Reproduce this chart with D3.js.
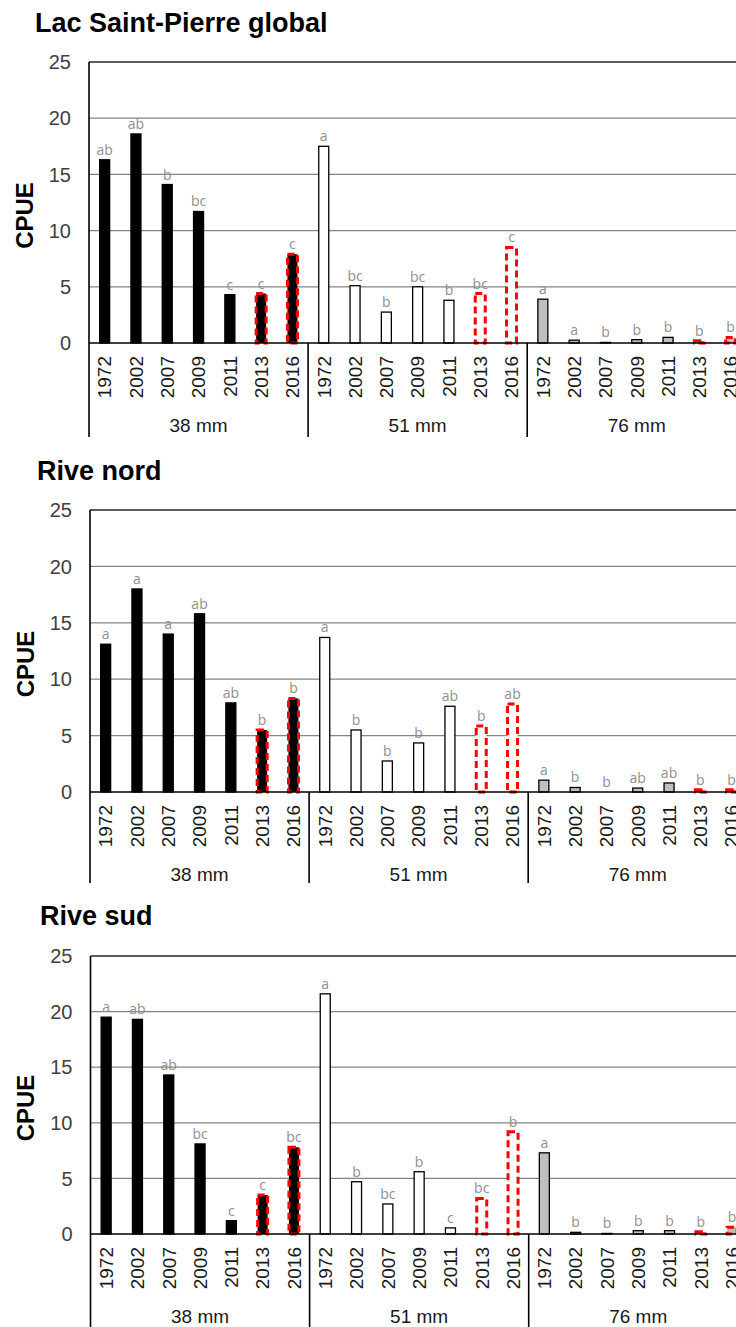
<!DOCTYPE html>
<html>
<head>
<meta charset="utf-8">
<script src="https://cdn.jsdelivr.net/npm/d3@7"></script>
<style>
  body { margin: 0; background: #fff; }
  svg { display: block; }
</style>
</head>
<body>
<div id="chart"></div>
<script>
// categories
const years = ["1972", "2002", "2007", "2009", "2011", "2013", "2016"];
const meshes = ["38 mm", "51 mm", "76 mm"];
const yTicks = [0, 5, 10, 15, 20, 25];
const dashedYears = ["2013", "2016"];
const titles = ["Lac Saint-Pierre global", "Rive nord", "Rive sud"];

// CPUE values, 38 mm then 51 mm then 76 mm
const globalValues = [16.3, 18.6, 14.1, 11.7, 4.3, 4.4, 7.9,
                      17.5, 5.1, 2.75, 5.0, 3.8, 4.4, 8.5,
                      3.9, 0.25, 0.05, 0.3, 0.5, 0.2, 0.5];
const globalLetters = ["ab", "ab", "b", "bc", "c", "c", "c",
                       "a", "bc", "b", "bc", "b", "bc", "c",
                       "a", "a", "b", "b", "b", "b", "b"];

const northValues = [13.1, 18.0, 14.0, 15.8, 7.9, 5.5, 8.3,
                     13.7, 5.5, 2.75, 4.35, 7.6, 5.85, 7.8,
                     1.05, 0.4, 0, 0.35, 0.8, 0.2, 0.2];
const northLetters = ["a", "a", "a", "ab", "ab", "b", "b",
                      "a", "b", "b", "b", "ab", "b", "ab",
                      "a", "b", "b", "ab", "ab", "b", "b"];

const southValues = [19.5, 19.3, 14.3, 8.1, 1.2, 3.5, 7.8,
                     21.6, 4.7, 2.7, 5.6, 0.55, 3.2, 9.2,
                     7.3, 0.15, 0.05, 0.3, 0.3, 0.2, 0.6];
const southLetters = ["a", "ab", "ab", "bc", "c", "c", "bc",
                      "a", "b", "bc", "b", "c", "bc", "b",
                      "a", "b", "b", "b", "b", "b", "b"];

const allValues = [globalValues, northValues, southValues];
const allLetters = [globalLetters, northLetters, southLetters];

// layout of each panel
let panels = [
  {titleX: 35, titleY: 32, top: 62, zero: 343, left: 89, bottom: 437},
  {titleX: 37, titleY: 480, top: 510, zero: 792, left: 90, bottom: 883},
  {titleX: 40, titleY: 925, top: 956, zero: 1234, left: 90.5, bottom: 1327}
];

let w = 736;
let h = 1327;
let band = 31.3;
let barW = 10;
let fills = {"38 mm": "#000000", "51 mm": "#ffffff", "76 mm": "#bfbfbf"};

let svg = d3.select("#chart")
  .append("svg")
  .attr("width", w)
  .attr("height", h)
  .style("font-family", "Arial, 'Liberation Sans', sans-serif");

panels.forEach((p, pi) => {
  let g = svg.append("g");

  let rows = [];
  meshes.forEach((m, mi) => {
    years.forEach((yr, yi) => {
      let k = mi * years.length + yi;
      rows.push({mesh: m, year: yr, value: allValues[pi][k], letter: allLetters[pi][k]});
    });
  });

  let x0 = d3.scaleBand().domain(meshes)
    .range([p.left, p.left + band * years.length * meshes.length]);
  let x1 = d3.scaleBand().domain(years).range([0, x0.bandwidth()]);
  let y = d3.scaleLinear().domain([0, 25]).range([p.zero, p.top]);
  let cx = (d) => x0(d.mesh) + x1(d.year) + x1.bandwidth() / 2;

  // title
  g.append("text")
    .attr("x", p.titleX)
    .attr("y", p.titleY)
    .style("font-size", "27px")
    .style("font-weight", "bold")
    .text(titles[pi]);

  // gridlines
  g.selectAll(".grid")
    .data(yTicks.filter(t => t > 0))
    .join("line")
    .attr("x1", p.left)
    .attr("x2", w)
    .attr("y1", d => y(d))
    .attr("y2", d => y(d))
    .attr("stroke", d => d == 25 ? "#262626" : "#858585")
    .attr("stroke-width", 1.3);

  // y tick labels
  g.selectAll(".ytick")
    .data(yTicks)
    .join("text")
    .attr("x", p.left - 18)
    .attr("y", d => y(d))
    .attr("dy", "0.36em")
    .attr("text-anchor", "end")
    .style("font-size", "20px")
    .style("fill", "#404040")
    .text(d => d);

  // y title
  g.append("text")
    .attr("transform", "translate(" + (p.left - 65) + "," + ((p.top + p.zero) / 2 + 13) + ") rotate(-90)")
    .attr("text-anchor", "middle")
    .attr("dy", "0.36em")
    .style("font-size", "24px")
    .style("font-weight", "bold")
    .text("CPUE");

  // bars
  g.selectAll(".bar")
    .data(rows)
    .join("rect")
    .attr("x", d => cx(d) - barW / 2)
    .attr("y", d => y(d.value))
    .attr("width", barW)
    .attr("height", d => y(0) - y(d.value))
    .attr("fill", d => fills[d.mesh])
    .attr("stroke", d => dashedYears.includes(d.year) ? "#ff0000" : "#000")
    .attr("stroke-width", d => dashedYears.includes(d.year) ? 3 : 1.3)
    .attr("stroke-dasharray", d => dashedYears.includes(d.year) ? "7,4" : null);

  // letters
  g.selectAll(".letter")
    .data(rows)
    .join("text")
    .attr("x", d => cx(d))
    .attr("y", d => y(d.value) - 5)
    .attr("text-anchor", "middle")
    .style("font-family", "'Open Sans', sans-serif")
    .style("font-size", "14px")
    .style("fill", "#8f8f8f")
    .text(d => d.letter);

  // axis lines
  g.append("line")
    .attr("x1", p.left).attr("x2", w)
    .attr("y1", p.zero).attr("y2", p.zero)
    .attr("stroke", "#000").attr("stroke-width", 1.6);
  g.append("line")
    .attr("x1", p.left).attr("x2", p.left)
    .attr("y1", p.top).attr("y2", p.bottom)
    .attr("stroke", "#000").attr("stroke-width", 1.6);
  g.selectAll(".sep")
    .data(meshes)
    .join("line")
    .attr("x1", d => x0(d) + x0.bandwidth())
    .attr("x2", d => x0(d) + x0.bandwidth())
    .attr("y1", p.zero)
    .attr("y2", p.bottom)
    .attr("stroke", "#000")
    .attr("stroke-width", 1.6);

  // year labels
  g.selectAll(".year")
    .data(rows)
    .join("text")
    .attr("transform", d => "translate(" + cx(d) + "," + (p.zero + 13) + ") rotate(-90)")
    .attr("text-anchor", "end")
    .attr("dy", "0.36em")
    .style("font-size", "19px")
    .style("fill", "#1a1a1a")
    .text(d => d.year);

  // mesh labels
  g.selectAll(".mesh")
    .data(meshes)
    .join("text")
    .attr("x", d => x0(d) + x0.bandwidth() / 2)
    .attr("y", p.zero + 89)
    .attr("text-anchor", "middle")
    .style("font-size", "19px")
    .style("fill", "#1a1a1a")
    .text(d => d);
});
</script>
</body>
</html>
